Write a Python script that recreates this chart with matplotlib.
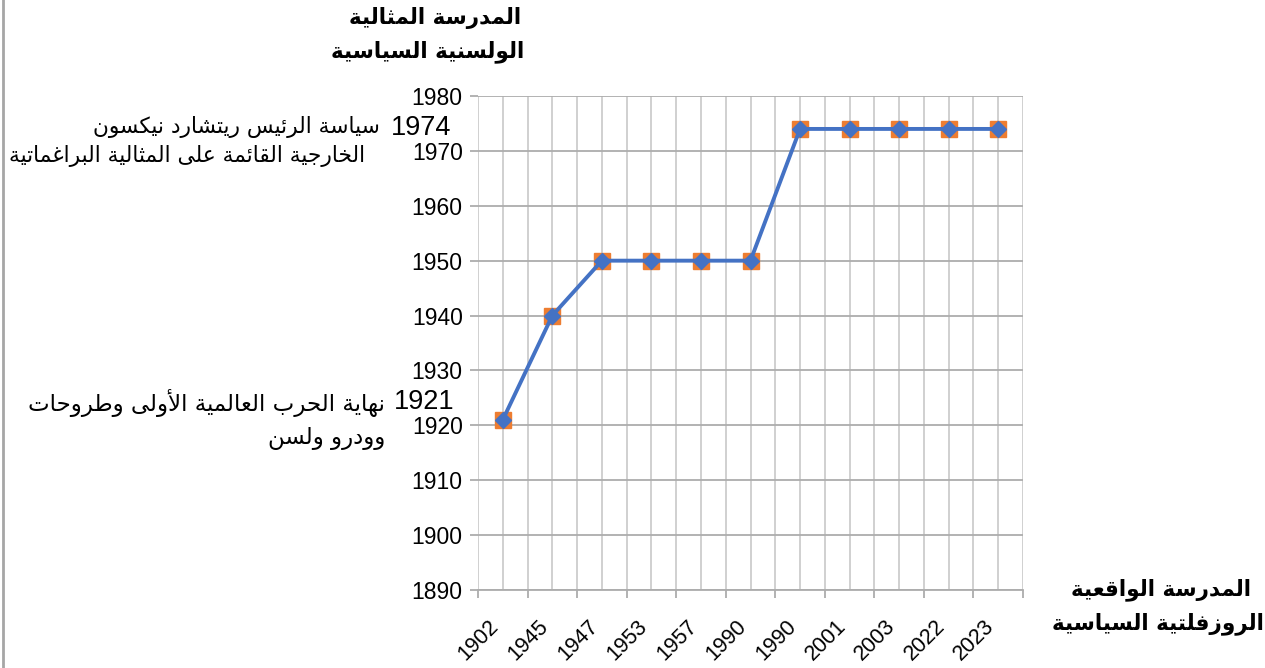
import matplotlib
matplotlib.use("Agg")
import matplotlib.pyplot as plt
from matplotlib.lines import Line2D
from matplotlib.ticker import FixedLocator, NullFormatter

# ---------------- data ----------------
categories = ['1902', '1945', '1947', '1953', '1957', '1990', '1990', '2001', '2003', '2022', '2023']
series_orange = [1921, 1940, 1950, 1950, 1950, 1950, 1974, 1974, 1974, 1974, 1974]
series_blue = [1921, 1940, 1950, 1950, 1950, 1950, 1974, 1974, 1974, 1974, 1974]
y_ticks = [1890, 1900, 1910, 1920, 1930, 1940, 1950, 1960, 1970, 1980]

y_title = ['المدرسة المثالية', 'الولسنية السياسية']
x_title = ['المدرسة الواقعية', 'الروزفلتية السياسية']
note_top_year = '1974'
note_top = ['سياسة الرئيس ريتشارد نيكسون', 'الخارجية القائمة على المثالية البراغماتية']
note_bottom_year = '1921'
note_bottom = ['نهاية الحرب العالمية الأولى وطروحات', 'وودرو ولسن']

# ---------------- minimal Arabic shaping ----------------
FORMS = {
    '\u0621': ('\uFE80', None, None, None),
    '\u0622': ('\uFE81', '\uFE82', None, None),
    '\u0623': ('\uFE83', '\uFE84', None, None),
    '\u0624': ('\uFE85', '\uFE86', None, None),
    '\u0625': ('\uFE87', '\uFE88', None, None),
    '\u0626': ('\uFE89', '\uFE8A', '\uFE8B', '\uFE8C'),
    '\u0627': ('\uFE8D', '\uFE8E', None, None),
    '\u0628': ('\uFE8F', '\uFE90', '\uFE91', '\uFE92'),
    '\u0629': ('\uFE93', '\uFE94', None, None),
    '\u062A': ('\uFE95', '\uFE96', '\uFE97', '\uFE98'),
    '\u062B': ('\uFE99', '\uFE9A', '\uFE9B', '\uFE9C'),
    '\u062C': ('\uFE9D', '\uFE9E', '\uFE9F', '\uFEA0'),
    '\u062D': ('\uFEA1', '\uFEA2', '\uFEA3', '\uFEA4'),
    '\u062E': ('\uFEA5', '\uFEA6', '\uFEA7', '\uFEA8'),
    '\u062F': ('\uFEA9', '\uFEAA', None, None),
    '\u0630': ('\uFEAB', '\uFEAC', None, None),
    '\u0631': ('\uFEAD', '\uFEAE', None, None),
    '\u0632': ('\uFEAF', '\uFEB0', None, None),
    '\u0633': ('\uFEB1', '\uFEB2', '\uFEB3', '\uFEB4'),
    '\u0634': ('\uFEB5', '\uFEB6', '\uFEB7', '\uFEB8'),
    '\u0635': ('\uFEB9', '\uFEBA', '\uFEBB', '\uFEBC'),
    '\u0636': ('\uFEBD', '\uFEBE', '\uFEBF', '\uFEC0'),
    '\u0637': ('\uFEC1', '\uFEC2', '\uFEC3', '\uFEC4'),
    '\u0638': ('\uFEC5', '\uFEC6', '\uFEC7', '\uFEC8'),
    '\u0639': ('\uFEC9', '\uFECA', '\uFECB', '\uFECC'),
    '\u063A': ('\uFECD', '\uFECE', '\uFECF', '\uFED0'),
    '\u0641': ('\uFED1', '\uFED2', '\uFED3', '\uFED4'),
    '\u0642': ('\uFED5', '\uFED6', '\uFED7', '\uFED8'),
    '\u0643': ('\uFED9', '\uFEDA', '\uFEDB', '\uFEDC'),
    '\u0644': ('\uFEDD', '\uFEDE', '\uFEDF', '\uFEE0'),
    '\u0645': ('\uFEE1', '\uFEE2', '\uFEE3', '\uFEE4'),
    '\u0646': ('\uFEE5', '\uFEE6', '\uFEE7', '\uFEE8'),
    '\u0647': ('\uFEE9', '\uFEEA', '\uFEEB', '\uFEEC'),
    '\u0648': ('\uFEED', '\uFEEE', None, None),
    '\u0649': ('\uFEEF', '\uFEF0', None, None),
    '\u064A': ('\uFEF1', '\uFEF2', '\uFEF3', '\uFEF4'),
}
LAM_ALEF = {'\u0622': ('\uFEF5', '\uFEF6'), '\u0623': ('\uFEF7', '\uFEF8'),
            '\u0625': ('\uFEF9', '\uFEFA'), '\u0627': ('\uFEFB', '\uFEFC')}


def dual(c):
    return c in FORMS and FORMS[c][2] is not None


def shape(text):
    chars = []
    i = 0
    while i < len(text):
        c = text[i]
        if c == '\u0644' and i + 1 < len(text) and text[i + 1] in LAM_ALEF:
            chars.append(('LA', text[i + 1]))
            i += 2
        else:
            chars.append(('C', c))
            i += 1
    out = []
    for k, (kind, c) in enumerate(chars):
        prev = chars[k - 1] if k > 0 else None
        nxt = chars[k + 1] if k + 1 < len(chars) else None
        join_prev = prev is not None and prev[0] == 'C' and dual(prev[1])
        if kind == 'LA':
            out.append(LAM_ALEF[c][1] if join_prev else LAM_ALEF[c][0])
            continue
        if c not in FORMS:
            out.append(c)
            continue
        join_next = dual(c) and nxt is not None and (nxt[0] == 'LA' or nxt[1] in FORMS)
        iso, fin, ini, med = FORMS[c]
        if join_prev and join_next:
            out.append(med)
        elif join_prev:
            out.append(fin)
        elif join_next:
            out.append(ini)
        else:
            out.append(iso)
    return ''.join(out)[::-1]


AR = ['DejaVu Sans']

# ---------------- figure ----------------
W, H = 1265, 668
fig = plt.figure(figsize=(W / 100, H / 100), dpi=100)
x0, x1, ytop, ybot = 478, 1023, 96, 590
ax = fig.add_axes([x0 / W, 1 - ybot / H, (x1 - x0) / W, (ybot - ytop) / H])

xs = list(range(len(categories)))
ax.plot(xs, series_orange, linestyle='none', marker='s', markersize=12,
        color='#ED7D31', zorder=3, clip_on=False)
ax.plot(xs, series_blue, color='#4472C4', linewidth=2.8, marker='D',
        markersize=8.5, zorder=4, clip_on=False)

ax.set_xlim(-0.5, len(categories) - 0.5)
ax.set_ylim(1890, 1980)

grid_h = '#ADADAD'
grid_v = '#CDCDCD'
for y in y_ticks:
    ax.axhline(y, color=grid_h, linewidth=1.3, zorder=1)
for k in range(2 * len(categories) + 1):
    ax.axvline(-0.5 + 0.5 * k, color=grid_v, linewidth=1.3, zorder=0.5)

for s in ['top', 'right', 'left']:
    ax.spines[s].set_visible(False)
ax.spines['bottom'].set_color(grid_h)
ax.spines['bottom'].set_linewidth(1.3)
ax.spines['bottom'].set_zorder(1)

ax.set_yticks(y_ticks)
ax.set_yticklabels([str(v) for v in y_ticks], fontsize=16.5, family='Liberation Sans')
ax.tick_params(axis='y', length=6, width=1.3, color=grid_h, pad=5)

# category axis: tick marks on category boundaries, labels at category centres
ax.xaxis.set_major_locator(FixedLocator([k - 0.5 for k in range(len(categories) + 1)]))
ax.xaxis.set_major_formatter(NullFormatter())
ax.xaxis.set_minor_locator(FixedLocator([x - 0.14 for x in xs]))
ax.tick_params(axis='x', which='major', length=6, width=1.3, color=grid_h)
ax.tick_params(axis='x', which='minor', length=0, pad=24, labelsize=15.5)
ax.set_xticklabels(categories, minor=True)
for lab in ax.xaxis.get_minorticklabels():
    lab.set_rotation(45)
    lab.set_rotation_mode('anchor')
    lab.set_ha('right')
    lab.set_va('center')
    lab.set_family('Liberation Sans')
    lab.set_fontsize(15.5)


def fx(px):
    return px / W


def fy(py):
    return 1 - py / H


# axis titles
fig.text(fx(521), fy(18), shape(y_title[0]), ha='right', va='center', fontsize=15.5,
         fontweight='bold', family=AR)
fig.text(fx(524), fy(52), shape(y_title[1]), ha='right', va='center', fontsize=15.5,
         fontweight='bold', family=AR)
fig.text(fx(1161), fy(590), shape(x_title[0]), ha='center', va='center', fontsize=15.5,
         fontweight='bold', family=AR)
fig.text(fx(1158), fy(624), shape(x_title[1]), ha='center', va='center', fontsize=15.5,
         fontweight='bold', family=AR)

# annotations
fig.text(fx(451), fy(128), note_top_year, ha='right', va='center', fontsize=19.5,
         family='Liberation Sans')
fig.text(fx(380), fy(127), shape(note_top[0]), ha='right', va='center', fontsize=15.7,
         family=AR)
fig.text(fx(365), fy(156), shape(note_top[1]), ha='right', va='center', fontsize=15.7,
         family=AR)
fig.text(fx(454), fy(402), note_bottom_year, ha='right', va='center', fontsize=19.5,
         family='Liberation Sans')
fig.text(fx(385), fy(403), shape(note_bottom[0]), ha='right', va='center', fontsize=16.5,
         family=AR)
fig.text(fx(385), fy(438), shape(note_bottom[1]), ha='right', va='center', fontsize=16.5,
         family=AR)

# chart frame edge on the left
fig.add_artist(Line2D([fx(3), fx(3)], [0, 1], color='#A6A6A6', linewidth=2,
                      transform=fig.transFigure))

fig.savefig('out.png', dpi=100)
